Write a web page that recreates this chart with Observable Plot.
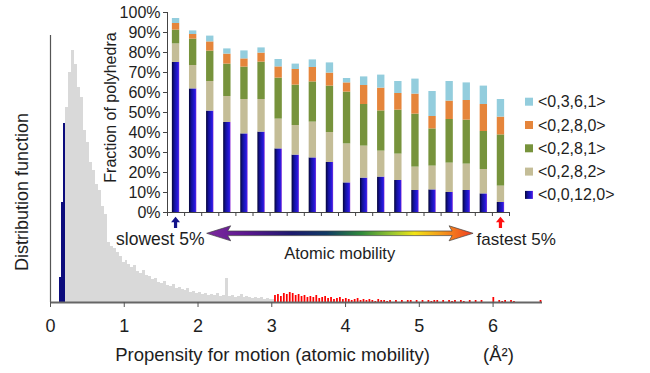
<!DOCTYPE html>
<html><head><meta charset="utf-8">
<script src="https://cdn.jsdelivr.net/npm/d3@7"></script>
<script src="https://cdn.jsdelivr.net/npm/@observablehq/plot@0.6"></script>
<style>
body{margin:0;background:#fff;}
#wrap{position:relative;width:650px;height:373px;overflow:hidden;}
#wrap > svg{position:absolute;left:0;top:0;}
</style></head><body><div id="wrap"></div>
<script>
// ---------- Main histogram data (distribution function, arbitrary units) ----------
const xTicks = [0, 1, 2, 3, 4, 5, 6];
const blueStart = 0.12, blueWidth = 0.03;
const blueHeights = [25, 100, 179];
const grayStart = 0.21, grayWidth = 0.04;
const grayHeights = [195,230,252,238,215,205,172,160,140,132,
  118,112,96,88,60,56,54,50,46,40,
  42,38,35,37,31,29,32,27,26,23,
  24,20,19,21,17,16,18,14,15,13,
  12,14,10,11,9,10,8,9,7,8,
  7,9,6,7,24,6,7,5,6,8,
  5,6,5,4,5,4,5,3,4,3,
  3];
const redStart = 3.03, redWidth = 0.04;
const redHeights = [7,8,6,9,8,10,9,7,8,6, 7,5,6,5,7,4,5,6,4,5,
  3,4,5,3,4,3,2,3,4,2, 3,2,3,2,1,3,2,2,1,2,
  0,2,0,2,0,2,2,0,2,0, 2,0,2,1,2,2,0,2,0,2,
  1,2,0,2,1,0,2,0,2,0, 2,0,0,0,5,0,2,1,2,0,
  2,1,0,0,0,0,0,0,0,0, 2];

// ---------- Inset data (fraction of polyhedra, %) ----------
const mobilityBins = d3.range(1, 21);
const groups = ["<0,0,12,0>", "<0,2,8,2>", "<0,2,8,1>", "<0,2,8,0>", "<0,3,6,1>"];
const v_0_0_12_0 = [75,61.8,50.7,45,39.3,40.2,31.8,28.7,27.3,25,14.8,17.2,17.7,16,11,11.3,10,11,9.3,5];
const v_0_2_8_2 = [9.3,11.7,14.8,13,17.2,16.3,14.9,14.8,17.9,15,19.5,16,13,13.2,11.7,11.9,14.7,13.2,12.2,8.2];
const v_0_2_8_1 = [6.9,13.2,15.2,16.2,16.2,18.7,20.5,20.2,20.1,23.2,25.9,20.8,20.1,22,26.5,18.6,21.8,22,19,25.6];
const v_0_2_8_0 = [3.3,2.3,4.6,5,4.1,4.5,5.6,7.8,7.2,6.5,4.6,9.5,11.4,8.3,10,6.2,9.2,9.8,13.5,8.9];
const v_0_3_6_1 = [2.5,1.8,2.9,2.6,4,2.6,3.7,2.7,3.8,5.1,2.2,4.3,6.5,6,7.5,12.5,9.8,8.8,9.2,8.8];
const yTicksInset = d3.range(0, 101, 10);
const colors = ["url(#blueGrad)", "#c4bd97", "#77933c", "#e5853b", "#93cddd"];

const FONT = '"Liberation Sans", Arial, sans-serif';
const TXT = "#1e1e1e";

// build rows
const toRows = (start, w, hs) => hs.map((h, i) => ({x1: start + i * w, x2: start + (i + 1) * w, h}));
const grayRows = toRows(grayStart, grayWidth, grayHeights);
const blueRows = toRows(blueStart, blueWidth, blueHeights);
const redRows = toRows(redStart, redWidth, redHeights);

const series = [v_0_0_12_0, v_0_2_8_2, v_0_2_8_1, v_0_2_8_0, v_0_3_6_1];
const segs = [];
mobilityBins.forEach((b, i) => {
  let acc = 0;
  series.forEach((s, k) => {
    segs.push({bin: b, group: groups[k], y1: acc, y2: acc + s[i]});
    acc += s[i];
  });
});
const halfBar = 0.215;

const wrap = document.getElementById("wrap");

// defs (gradients)
const defs = d3.create("svg").attr("width", 0).attr("height", 0);
const dd = defs.append("defs");
const bg = dd.append("linearGradient").attr("id", "blueGrad").attr("x1", 0).attr("x2", 1).attr("y1", 0).attr("y2", 0);
[[0, "#05053a"], [0.35, "#14129a"], [0.75, "#2418d8"], [0.88, "#3a20e0"], [1, "#9a40d8"]].forEach(([o, c]) => bg.append("stop").attr("offset", o).attr("stop-color", c));
const ag = dd.append("linearGradient").attr("id", "arrowGrad").attr("x1", 0).attr("x2", 1).attr("y1", 0).attr("y2", 0);
[[0, "#7d2a9e"], [0.15, "#5b168f"], [0.32, "#1c1a6e"], [0.45, "#103a64"], [0.58, "#2f8a3c"], [0.7, "#9cc830"], [0.78, "#f2e414"], [0.88, "#f59a1c"], [1, "#f03c22"]].forEach(([o, c]) => ag.append("stop").attr("offset", o).attr("stop-color", c));
wrap.appendChild(defs.node());

// main plot
const main = Plot.plot({
  width: 650, height: 373,
  marginLeft: 50, marginRight: 108, marginTop: 35, marginBottom: 71,
  style: {fontFamily: FONT, fontSize: "18px", color: TXT, background: "transparent"},
  x: {domain: [0, 6.67], label: null},
  y: {domain: [0, 267], label: null, axis: null},
  marks: [
    Plot.rect(grayRows, {x1: "x1", x2: "x2", y1: 0, y2: "h", fill: "#d9d9d9", shapeRendering: "crispEdges"}),
    Plot.rect(blueRows, {x1: "x1", x2: "x2", y1: 0, y2: "h", fill: "#0c0c7c", shapeRendering: "crispEdges"}),
    Plot.rect(redRows, {x1: "x1", x2: "x2", y1: 0, y2: "h", fill: "#ff0000", insetLeft: 0.6, insetRight: 0.6}),
    Plot.ruleX([0], {stroke: "#555", strokeWidth: 1.2}),
    Plot.ruleY([0], {stroke: "#666", strokeWidth: 2}),
    Plot.axisX(xTicks, {tickSize: 5, tickPadding: 12, fontSize: 18, stroke: "#555", label: null, fill: TXT}),
    Plot.text(["Distribution function"], {text: d => d, frameAnchor: "left", textAnchor: "middle", lineAnchor: "middle", rotate: -90, dx: -28, dy: 23, fontSize: 18, fill: TXT}),
    Plot.text(["Propensity for motion (atomic mobility)"], {text: d => d, frameAnchor: "bottom", textAnchor: "middle", lineAnchor: "middle", dx: -24, dy: 53, fontSize: 18.5, fill: TXT}),
    Plot.text(["(Å²)"], {text: d => d, frameAnchor: "bottom", textAnchor: "middle", lineAnchor: "middle", dx: 202, dy: 53, fontSize: 18.5, fill: TXT})
  ]
});
wrap.appendChild(main);

// inset plot
const inset = Plot.plot({
  width: 650, height: 240,
  marginLeft: 167, marginRight: 141, marginTop: 12, marginBottom: 28,
  style: {fontFamily: FONT, fontSize: "16px", color: TXT, background: "transparent"},
  x: {domain: [0.5, 20.5], label: null, axis: null},
  y: {domain: [0, 100], label: null, axis: null},
  color: {domain: groups, range: colors},
  marks: [
    Plot.rect(segs, {x1: d => d.bin - halfBar, x2: d => d.bin + halfBar, y1: "y1", y2: "y2", fill: "group"}),
    Plot.ruleX([0.5], {stroke: "#444"}),
    Plot.ruleY([0], {stroke: "#444"}),
    Plot.axisY(yTicksInset, {tickSize: 4, tickPadding: 3, tickFormat: d => d + "%", fontSize: 16, stroke: "#444", label: null, fill: TXT}),
    Plot.axisX(d3.range(0.5, 21, 1), {tickSize: 4, tickFormat: () => "", stroke: "#444", label: null}),
    Plot.text(["Fraction of polyhedra"], {text: d => d, frameAnchor: "left", textAnchor: "middle", lineAnchor: "middle", rotate: -90, dx: -57, dy: -5, fontSize: 16, fill: TXT})
  ]
});
wrap.appendChild(inset);

// overlay annotations (arrows, labels, legend)
const xs = inset.scale("x"), ys = inset.scale("y");
const X = v => xs.apply(v), Y = v => ys.apply(v);
const ov = d3.create("svg").attr("width", 650).attr("height", 373)
  .style("font-family", FONT).style("pointer-events", "none");

// gradient double arrow
const ax1 = X(2.82), ax2 = X(18.4), ay = Y(-10.65);
const hl = 24, hh = 7.5, sh = 2.3;
const path = `M${ax1},${ay} L${ax1 + hl},${ay - hh} L${ax1 + hl - 3},${ay - sh} L${ax2 - hl + 3},${ay - sh} L${ax2 - hl},${ay - hh} L${ax2},${ay} L${ax2 - hl},${ay + hh} L${ax2 - hl + 3},${ay + sh} L${ax1 + hl - 3},${ay + sh} L${ax1 + hl},${ay + hh} Z`;
ov.append("path").attr("d", path).attr("fill", "url(#arrowGrad)").attr("stroke", "#444").attr("stroke-width", 0.7);

// small up arrows
function upArrow(cx, color) {
  const top = Y(-2.4), bot = Y(-8);
  ov.append("path")
    .attr("d", `M${cx},${top} L${cx + 4.5},${top + 5.5} L${cx + 1.6},${top + 5.5} L${cx + 1.6},${bot} L${cx - 1.6},${bot} L${cx - 1.6},${top + 5.5} L${cx - 4.5},${top + 5.5} Z`)
    .attr("fill", color);
}
upArrow(X(1), "#13138a");
upArrow(X(20), "#ff1010");

ov.append("text").text("slowest 5%").attr("x", X(2.7)).attr("y", Y(-13.5)).attr("text-anchor", "end")
  .attr("dominant-baseline", "central").attr("font-size", 17.5).attr("fill", TXT);
ov.append("text").text("fastest 5%").attr("x", X(18.6)).attr("y", Y(-13.5)).attr("text-anchor", "start")
  .attr("dominant-baseline", "central").attr("font-size", 17).attr("fill", TXT);
ov.append("text").text("Atomic mobility").attr("x", X(10.6)).attr("y", Y(-20.3)).attr("text-anchor", "middle")
  .attr("dominant-baseline", "central").attr("font-size", 16.5).attr("fill", TXT);

// legend (top to bottom reversed order of stacking)
const legOrder = [4, 3, 2, 1, 0];
legOrder.forEach((k, r) => {
  const cy = 101.7 + r * 23.3;
  ov.append("rect").attr("x", 525).attr("y", cy - 4).attr("width", 8).attr("height", 8).attr("fill", colors[k]);
  ov.append("text").text(groups[k]).attr("x", 538).attr("y", cy).attr("dominant-baseline", "central")
    .attr("font-size", 16).attr("fill", TXT);
});
wrap.appendChild(ov.node());
</script></body></html>
